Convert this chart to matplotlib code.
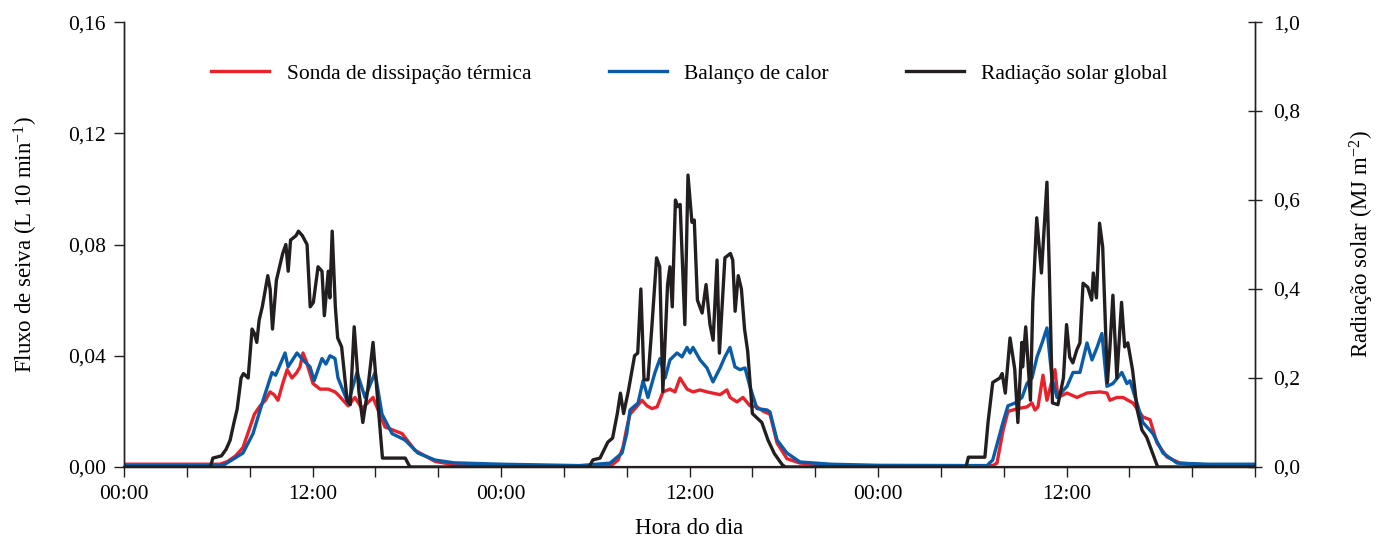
import matplotlib
matplotlib.use("Agg")
import matplotlib.pyplot as plt
import numpy as np

plt.rcParams['font.family'] = ['Liberation Serif', 'DejaVu Serif']
plt.rcParams['mathtext.fontset'] = 'custom'
plt.rcParams['mathtext.rm'] = 'Liberation Serif'
plt.rcParams['mathtext.it'] = 'Liberation Serif:italic'

# hours since start (3 days)
sonda_t = [0, 5.5, 6.1, 6.6, 7.1, 7.57, 8.02, 8.3, 8.66, 9.0, 9.29, 9.55, 9.8, 10.1, 10.38, 10.69,
           11.0, 11.2, 11.39, 11.6, 12.03, 12.48, 13.0, 13.43, 13.62, 14.26, 14.7, 15.15, 15.85,
           16.61, 17.25, 17.7, 18.52, 19.8, 21, 24,
           30, 31.0, 31.45, 31.76, 32.0, 32.21, 32.53, 32.97, 33.29, 33.61, 33.93, 34.31, 34.75,
           35.07, 35.39, 35.84, 36.22, 36.67, 37.11, 37.94, 38.38, 38.58, 39.02, 39.4, 39.85,
           40.29, 40.7, 41.12, 41.57, 42.2, 43.03, 45, 48,
           54.5, 55.3, 55.57, 55.95, 56.27, 56.91, 57.48, 57.8, 57.99, 58.18, 58.5, 58.75, 59.26,
           59.45, 60.03, 60.66, 61.3, 62.13, 62.57, 62.76, 63.2, 63.59, 63.91, 64.23, 64.86,
           65.31, 65.76, 66.39, 67.22, 69, 72]
sonda_v = [0.001, 0.001, 0.001, 0.002, 0.004, 0.007, 0.0144, 0.019, 0.022, 0.024, 0.027, 0.026,
           0.024, 0.030, 0.035, 0.032, 0.034, 0.036, 0.041, 0.038, 0.030, 0.028, 0.028, 0.027,
           0.026, 0.022, 0.025, 0.021, 0.025, 0.0144, 0.013, 0.012, 0.006, 0.002, 0.0008, 0.0003,
           0.0003, 0.0005, 0.0025, 0.007, 0.014, 0.019, 0.021, 0.024, 0.022, 0.021, 0.0216,
           0.027, 0.028, 0.027, 0.032, 0.028, 0.027, 0.0277, 0.027, 0.026, 0.0277, 0.025,
           0.0234, 0.025, 0.022, 0.0216, 0.020, 0.019, 0.0086, 0.003, 0.0014, 0.0006, 0.0003,
           0.0003, 0.0005, 0.0014, 0.013, 0.020, 0.021, 0.0216, 0.023, 0.0205, 0.0216, 0.033,
           0.024, 0.035, 0.025, 0.0266, 0.025, 0.0266, 0.027, 0.0266, 0.024, 0.025, 0.025,
           0.024, 0.023, 0.018, 0.017, 0.0086, 0.0036, 0.0014, 0.0006, 0.0004]

balanco_t = [0, 6.0, 6.43, 7.0, 7.57, 8.21, 8.85, 9.42, 9.65, 10.25, 10.44, 11.01, 11.39, 11.84,
             12.1, 12.6, 12.85, 13.11, 13.43, 13.62, 14.26, 14.83, 15.34, 15.98, 16.42, 17.06,
             17.89, 18.71, 19.8, 21, 24,
             29, 30.94, 31.7, 32.0, 32.21, 32.72, 33.04, 33.35, 33.8, 34.12, 34.44, 34.75, 35.2,
             35.52, 35.84, 36.03, 36.22, 36.67, 37.11, 37.49, 37.94, 38.25, 38.57, 38.89, 39.21,
             39.53, 39.85, 40.29, 40.93, 41.12, 41.57, 42.2, 43.03, 45, 48,
             54.93, 55.3, 55.95, 56.27, 56.72, 57.16, 57.48, 57.8, 58.12, 58.44, 58.75, 59.07,
             59.39, 60.03, 60.41, 60.85, 61.3, 61.62, 61.94, 62.25, 62.57, 62.95, 63.52, 63.84,
             64.04, 64.48, 64.86, 65.5, 66.14, 67.03, 69, 72]
balanco_v = [0.0005, 0.0005, 0.001, 0.003, 0.005, 0.012, 0.024, 0.034, 0.033, 0.041, 0.036,
             0.041, 0.0385, 0.036, 0.031, 0.039, 0.037, 0.040, 0.039, 0.032, 0.023, 0.034, 0.025,
             0.034, 0.019, 0.012, 0.0097, 0.005, 0.0025, 0.0015, 0.001,
             0.0005, 0.0014, 0.005, 0.012, 0.0205, 0.023, 0.031, 0.025, 0.034, 0.039, 0.032,
             0.0385, 0.041, 0.0396, 0.043, 0.041, 0.043, 0.0385, 0.0356, 0.0306, 0.0356, 0.0396,
             0.043, 0.036, 0.035, 0.0356, 0.0288, 0.021, 0.0205, 0.0198, 0.0097, 0.005, 0.0018,
             0.001, 0.0006,
             0.0005, 0.0025, 0.016, 0.022, 0.023, 0.025, 0.030, 0.032, 0.0396, 0.0446, 0.050,
             0.032, 0.025, 0.029, 0.034, 0.034, 0.0446, 0.0385, 0.043, 0.048, 0.029, 0.030,
             0.034, 0.030, 0.031, 0.023, 0.016, 0.012, 0.005, 0.0014, 0.001, 0.001]

rad_t = [0, 5.5, 5.65, 6.2, 6.5, 6.75, 7.0, 7.2, 7.45, 7.6, 7.9, 8.15, 8.3, 8.45, 8.6, 8.8, 9.0,
         9.15, 9.3, 9.45, 9.7, 10.1, 10.3, 10.45, 10.6, 10.95, 11.1, 11.35, 11.65, 11.85, 12.05,
         12.35, 12.6, 12.75, 13.0, 13.1, 13.25, 13.45, 13.6, 13.85, 14.2, 14.4, 14.65, 14.95,
         15.2, 15.5, 15.85, 16.1, 16.45, 17.9, 18.2,
         29.6, 29.85, 30.3, 30.8, 31.1, 31.4, 31.6, 31.8, 32.1, 32.5, 32.7, 32.9, 33.1, 33.35,
         33.6, 33.9, 34.1, 34.3, 34.6, 34.75, 34.9, 35.1, 35.25, 35.4, 35.7, 35.9, 36.15, 36.3,
         36.5, 36.8, 37.05, 37.3, 37.5, 37.75, 37.9, 38.25, 38.6, 38.75, 38.9, 39.1, 39.3, 39.5,
         39.7, 40.0, 40.6, 41.0, 41.4, 41.9, 42.1,
         53.6, 53.75, 54.8, 55.0, 55.3, 55.75, 55.9, 56.1, 56.4, 56.7, 56.9, 57.15, 57.2, 57.4,
         57.7, 57.85, 58.1, 58.4, 58.75, 58.9, 59.1, 59.45, 59.8, 60.0, 60.2, 60.4, 60.65, 60.85,
         61.05, 61.35, 61.6, 61.7, 61.9, 62.1, 62.3, 62.6, 62.75, 62.95, 63.2, 63.5, 63.7, 63.9,
         64.2, 64.5, 64.8, 65.1, 65.4, 65.8, 72]
rad_v = [0, 0, 0.02, 0.025, 0.04, 0.06, 0.10, 0.13, 0.20, 0.21, 0.20, 0.31, 0.30, 0.28, 0.33,
         0.36, 0.40, 0.43, 0.40, 0.31, 0.42, 0.48, 0.50, 0.44, 0.51, 0.52, 0.53, 0.52, 0.50, 0.36,
         0.37, 0.45, 0.44, 0.34, 0.44, 0.38, 0.53, 0.36, 0.29, 0.27, 0.15, 0.14, 0.315, 0.17,
         0.10, 0.17, 0.28, 0.17, 0.02, 0.02, 0,
         0, 0.016, 0.02, 0.056, 0.065, 0.12, 0.166, 0.12, 0.17, 0.25, 0.256, 0.40, 0.196, 0.196,
         0.315, 0.47, 0.45, 0.17, 0.41, 0.45, 0.36, 0.60, 0.585, 0.59, 0.32, 0.656, 0.55, 0.555,
         0.375, 0.346, 0.41, 0.32, 0.285, 0.465, 0.256, 0.47, 0.48, 0.465, 0.35, 0.43, 0.40, 0.31,
         0.26, 0.12, 0.10, 0.06, 0.03, 0.005, 0,
         0, 0.022, 0.022, 0.10, 0.19, 0.20, 0.21, 0.166, 0.29, 0.22, 0.10, 0.28, 0.225, 0.315,
         0.15, 0.37, 0.56, 0.436, 0.64, 0.443, 0.144, 0.14, 0.20, 0.32, 0.247, 0.234, 0.263,
         0.279, 0.413, 0.404, 0.375, 0.436, 0.38, 0.548, 0.494, 0.19, 0.263, 0.386, 0.20, 0.37,
         0.27, 0.279, 0.218, 0.128, 0.083, 0.067, 0.038, 0, 0]

x_ticks = list(range(0, 73, 4))
x_labels = ['00:00' if h % 24 == 0 and h < 72 else '12:00' if h % 24 == 12 else '' for h in x_ticks]
y_ticks = [0, 0.04, 0.08, 0.12, 0.16]
y2_ticks = [0, 0.2, 0.4, 0.6, 0.8, 1.0]

red = '#e8212b'
blue = '#0a5ca8'
black = '#231f20'

fig = plt.figure(figsize=(13.83, 5.38), dpi=100)
ax = fig.add_axes([0.0897, 0.132, 0.8178, 0.827])
ax2 = ax.twinx()

l1, = ax.plot(sonda_t, sonda_v, color=red, lw=2.4, label='Sonda de dissipação térmica')
l2, = ax.plot(balanco_t, balanco_v, color=blue, lw=2.4, label='Balanço de calor')
l3, = ax2.plot(rad_t, rad_v, color=black, lw=2.4, label='Radiação solar global')

ax.set_xlim(0, 72)
ax.set_ylim(0, 0.16)
ax2.set_ylim(0, 1.0)

ax.set_xticks(x_ticks)
ax.set_xticklabels(x_labels)
ax.set_yticks(y_ticks)
ax.set_yticklabels([('%.2f' % v).replace('.', ',') for v in y_ticks])
ax2.set_yticks(y2_ticks)
ax2.set_yticklabels([('%.1f' % v).replace('.', ',') for v in y2_ticks])

ax.tick_params(axis='both', direction='out', length=7, width=1, labelsize=15.5, pad=6, color='#231f20')
ax2.tick_params(axis='y', direction='inout', length=10, width=1, labelsize=15.5, pad=8, color='#231f20')

for a in (ax, ax2):
    for s in a.spines.values():
        s.set_linewidth(1.0)
        s.set_color('#231f20')
    a.spines['top'].set_visible(False)
ax.spines['bottom'].set_linewidth(1.6)

ax.set_xlabel('Hora do dia', fontsize=16.5, labelpad=10)
ax.set_ylabel('Fluxo de seiva (L 10 min$^{-1}$)', fontsize=16.5, labelpad=20)
ax2.set_ylabel('Radiação solar (MJ m$^{-2}$)', fontsize=16.5, labelpad=34)

ax2.legend([l1, l2, l3], [l1.get_label(), l2.get_label(), l3.get_label()],
           loc='upper center', bbox_to_anchor=(0.5, 0.95), ncol=3, frameon=False,
           fontsize=15.5, handlelength=2.7, handletextpad=0.8, columnspacing=3.6)

fig.savefig('out.png', dpi=100)
